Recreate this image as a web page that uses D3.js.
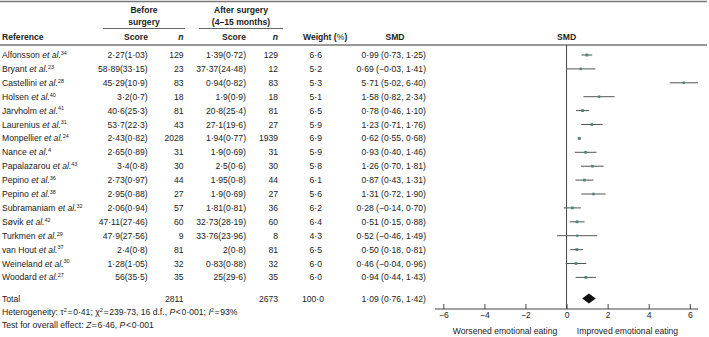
<!DOCTYPE html>
<html>
<head>
<meta charset="utf-8">
<script src="https://cdn.jsdelivr.net/npm/d3@7"></script>
<style>
  body { margin: 0; background: #fff; }
  svg text { font-family: "Liberation Sans", Arial, sans-serif; fill: #222; }
</style>
</head>
<body>
<div id="chart"></div>
<script>
// study data
const refs = ["Alfonsson", "Bryant", "Castellini", "Holsen", "Järvholm", "Laurenius", "Monpellier", "Nance",
    "Papalazarou", "Pepino", "Pepino", "Subramaniam", "Søvik", "Turkmen", "van Hout", "Weineland", "Woodard"];
const refNums = [34, 23, 28, 40, 41, 31, 24, 4, 43, 36, 38, 32, 42, 29, 37, 30, 27];
const beforeMean = [2.27, 58.89, 45.29, 3.2, 40.6, 53.7, 2.43, 2.65, 3.4, 2.73, 2.95, 2.06, 47.11, 47.9, 2.4, 1.28, 56];
const beforeSd = [1.03, 33.15, 10.9, 0.7, 25.3, 22.3, 0.82, 0.89, 0.8, 0.97, 0.88, 0.94, 27.46, 27.56, 0.8, 1.05, 35.5];
const beforeN = [129, 23, 83, 18, 81, 43, 2028, 31, 30, 44, 27, 57, 60, 9, 81, 32, 35];
const afterMean = [1.39, 37.37, 0.94, 1.9, 20.8, 27.1, 1.94, 1.9, 2.5, 1.95, 1.9, 1.81, 32.73, 33.76, 2, 0.83, 25];
const afterSd = [0.72, 24.48, 0.82, 0.9, 25.4, 19.6, 0.77, 0.69, 0.6, 0.8, 0.69, 0.81, 28.19, 23.96, 0.8, 0.88, 29.6];
const afterN = [129, 12, 83, 18, 81, 27, 1939, 31, 30, 44, 27, 36, 60, 8, 81, 32, 35];
const weights = [6.6, 5.2, 5.3, 5.1, 6.5, 5.9, 6.9, 5.9, 5.8, 6.1, 5.6, 6.2, 6.4, 4.3, 6.5, 6.0, 6.0];
const smd = [0.99, 0.69, 5.71, 1.58, 0.78, 1.23, 0.62, 0.93, 1.26, 0.87, 1.31, 0.28, 0.51, 0.52, 0.50, 0.46, 0.94];
const smdLo = [0.73, -0.03, 5.02, 0.82, 0.46, 0.71, 0.55, 0.40, 0.70, 0.43, 0.72, -0.14, 0.15, -0.46, 0.18, -0.04, 0.44];
const smdHi = [1.25, 1.41, 6.40, 2.34, 1.10, 1.76, 0.68, 1.46, 1.81, 1.31, 1.90, 0.70, 0.88, 1.49, 0.81, 0.96, 1.43];

const totalBeforeN = 2811, totalAfterN = 2673, totalWeight = 100.0;
const totalSmd = 1.09, totalLo = 0.76, totalHi = 1.42;
const xTicks = [-6, -4, -2, 0, 2, 4, 6];

const width = 709, height = 337;
const fs = 8.6;

const svg = d3.select('#chart').append('svg')
    .attr('width', width)
    .attr('height', height)
    .style('font-size', fs + 'px');

// lancet style numbers: mid dot decimals, real minus sign
const num = v => String(v).replace('.', '·').replace('-', '−');
const fix = (v, d) => v.toFixed(d).replace('.', '·').replace('-', '−');
const ms = (m, s) => num(m) + '(' + num(s) + ')';

const x = d3.scaleLinear().domain([-6, 6]).range([443.3, 689.8]);
const y = d3.scaleLinear().domain([0, refs.length - 1]).range([55, 277.4]);
const totalY = 298.5;
const axisY = 309;

// rules
const rule = (x1, x2, yy, w, c) => svg.append('line')
    .attr('x1', x1).attr('x2', x2).attr('y1', yy).attr('y2', yy)
    .attr('stroke', c || '#666').attr('stroke-width', w || 1);
rule(0, 707, 1.5, 1.3, '#777');
rule(0, 707, 45, 1.3, '#777');
rule(103, 185, 28.5, 0.9, '#555');
rule(199, 283, 28.5, 0.9, '#555');

// headers
const head = (tx, ty, s, anchor) => svg.append('text')
    .attr('x', tx).attr('y', ty)
    .attr('text-anchor', anchor || 'start')
    .attr('font-weight', 'bold')
    .text(s);
head(144, 13, 'Before', 'middle');
head(144, 25, 'surgery', 'middle');
head(241, 13, 'After surgery', 'middle');
head(241, 25, '(4–15 months)', 'middle');
head(2, 40, 'Reference');
head(148, 40, 'Score', 'end');
svg.append('text').attr('x', 183.5).attr('y', 40).attr('text-anchor', 'end')
    .attr('font-weight', 'bold').attr('font-style', 'italic').text('n');
head(246, 40, 'Score', 'end');
svg.append('text').attr('x', 278).attr('y', 40).attr('text-anchor', 'end')
    .attr('font-weight', 'bold').attr('font-style', 'italic').text('n');
const wh = head(303, 40, 'Weight (');
wh.append('tspan').attr('font-weight', 'normal').text('%');
wh.append('tspan').text(')');
head(395, 40, 'SMD', 'middle');
head(x(0), 40, 'SMD', 'middle');

// table rows
const rows = svg.append('g').selectAll('g')
    .data(refs.map((r, i) => i))
    .enter().append('g')
    .attr('transform', i => `translate(0,${y(i)})`);

const refText = rows.append('text').attr('x', 2).attr('dy', '0.35em');
refText.append('tspan').text(i => refs[i] + ' ');
refText.append('tspan').attr('font-style', 'italic').text('et al.');
refText.append('tspan').attr('font-size', '5.5px').attr('dy', '-3.2').text(i => refNums[i]);

const cell = (cx, fn) => rows.append('text')
    .attr('x', cx).attr('dy', '0.35em').attr('text-anchor', 'end').text(fn);
cell(147.7, i => ms(beforeMean[i], beforeSd[i]));
cell(183.5, i => beforeN[i]);
cell(246, i => ms(afterMean[i], afterSd[i]));
cell(278, i => afterN[i]);
cell(322, i => fix(weights[i], 1));
cell(426, i => fix(smd[i], 2) + ' (' + fix(smdLo[i], 2) + ', ' + fix(smdHi[i], 2) + ')');

// total row
const tot = svg.append('g').attr('transform', `translate(0,${totalY})`);
const tcell = (cx, s, anchor) => tot.append('text').attr('x', cx).attr('dy', '0.35em')
    .attr('text-anchor', anchor || 'end').text(s);
tcell(2, 'Total', 'start');
tcell(183.5, totalBeforeN);
tcell(278, totalAfterN);
tcell(324, fix(totalWeight, 1));
tcell(426, fix(totalSmd, 2) + ' (' + fix(totalLo, 2) + ', ' + fix(totalHi, 2) + ')');

// heterogeneity notes
const hs = '\u200A';
const het = svg.append('text').attr('x', 2).attr('y', 315);
het.append('tspan').text('Heterogeneity: τ');
het.append('tspan').attr('font-size', '5.5px').attr('dy', -3).text('2');
het.append('tspan').attr('dy', 3).text(hs + '=' + hs + '0·41; χ');
het.append('tspan').attr('font-size', '5.5px').attr('dy', -3).text('2');
het.append('tspan').attr('dy', 3).text(hs + '=' + hs + '239·73, 16 d.f., ');
het.append('tspan').attr('font-style', 'italic').text('P');
het.append('tspan').text(hs + '<' + hs + '0·001; ');
het.append('tspan').attr('font-style', 'italic').text('I');
het.append('tspan').attr('font-size', '5.5px').attr('dy', -3).text('2');
het.append('tspan').attr('dy', 3).text(hs + '=' + hs + '93%');

const ovr = svg.append('text').attr('x', 2).attr('y', 328);
ovr.append('tspan').text('Test for overall effect: ');
ovr.append('tspan').attr('font-style', 'italic').text('Z');
ovr.append('tspan').text(hs + '=' + hs + '6·46, ');
ovr.append('tspan').attr('font-style', 'italic').text('P');
ovr.append('tspan').text(hs + '<' + hs + '0·001');

// forest plot
const plot = svg.append('g');
plot.append('line')
    .attr('x1', x(0)).attr('x2', x(0)).attr('y1', 45).attr('y2', axisY)
    .attr('stroke', '#444').attr('stroke-width', 1);

const ci = plot.selectAll('.ci')
    .data(refs.map((r, i) => i))
    .enter().append('g')
    .attr('transform', i => `translate(0,${y(i)})`);
ci.append('line')
    .attr('x1', i => x(smdLo[i])).attr('x2', i => x(smdHi[i]))
    .attr('stroke', '#555').attr('stroke-width', 1);
ci.append('rect')
    .attr('x', i => x(smd[i]) - Math.sqrt(weights[i]) * 0.55)
    .attr('y', i => -Math.sqrt(weights[i]) * 0.55)
    .attr('width', i => Math.sqrt(weights[i]) * 1.1)
    .attr('height', i => Math.sqrt(weights[i]) * 1.1)
    .attr('fill', '#4f8580');

// pooled diamond
plot.append('path')
    .attr('d', `M${x(totalLo)},${totalY} L${x(totalSmd)},${totalY - 5} L${x(totalHi)},${totalY} L${x(totalSmd)},${totalY + 5} Z`)
    .attr('fill', '#111');

// x axis, ticks pointing up
const axis = svg.append('g').attr('transform', `translate(0,${axisY})`)
    .call(d3.axisBottom(x).tickValues(xTicks).tickSize(-5).tickPadding(3)
        .tickFormat(d => String(d).replace('-', '−')));
axis.select('.domain').attr('d', 'M435,0H698').attr('stroke', '#444');
axis.selectAll('.tick line').attr('stroke', '#444');
axis.selectAll('.tick text')
    .attr('y', 3).attr('dy', '0.71em')
    .style('font-size', fs + 'px')
    .style('font-family', '"Liberation Sans", Arial, sans-serif')
    .attr('fill', '#222');

svg.append('text').attr('x', 505).attr('y', 334).attr('text-anchor', 'middle')
    .text('Worsened emotional eating');
svg.append('text').attr('x', 627.5).attr('y', 334).attr('text-anchor', 'middle')
    .text('Improved emotional eating');
</script>
</body>
</html>
